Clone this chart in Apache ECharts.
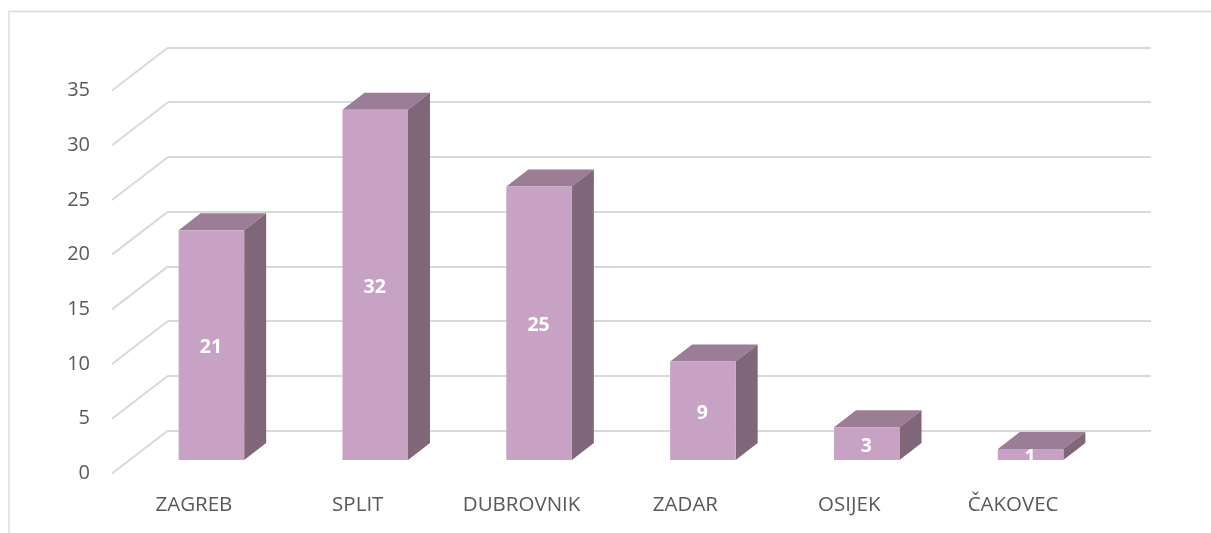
<!DOCTYPE html>
<html>
<head>
<meta charset="utf-8">
<style>html,body{margin:0;padding:0;background:#fff}#c{width:1211px;height:533px}</style>
<script src="https://cdn.jsdelivr.net/npm/echarts@6/dist/echarts.min.js"></script>
</head>
<body>
<div id="c"></div>
<script>
const categories = ['ZAGREB', 'SPLIT', 'DUBROVNIK', 'ZADAR', 'OSIJEK', 'ČAKOVEC'];
const values = [21, 32, 25, 9, 3, 1];
const yTicks = [0, 5, 10, 15, 20, 25, 30, 35];

const FONT = '"Open Sans", "Noto Sans", sans-serif';
const GRID_COLOR = '#d9d9d9';
const TEXT_COLOR = '#595959';
const FRONT = '#c7a2c4', TOP = '#9b7d95', SIDE = '#806679';
const DEPTH_X = 22, DEPTH_Y = 17;
const WALL_X = 56, WALL_Y = 43;

const chart = echarts.init(document.getElementById('c'), null, {renderer: 'canvas'});

const hiddenX = i => ({type: 'category', gridIndex: i, data: categories, show: false});
const hiddenY = i => ({type: 'value', gridIndex: i, min: 0, max: 35, interval: 5, show: false});

chart.setOption({
  animation: false,
  backgroundColor: '#fff',
  graphic: [{
    type: 'polyline',
    silent: true,
    shape: {points: [[9, 533], [9, 11.5], [1211, 11.5]]},
    style: {stroke: GRID_COLOR, lineWidth: 1.3, fill: null}
  }],
  grid: [
    {left: 112, top: 90.5, width: 983, height: 383},   // front edge: tick labels
    {left: 168, top: 47.5, width: 983, height: 383},   // back wall
    {left: 129.5, top: 77, width: 983, height: 383}    // plane of the bars
  ],
  xAxis: [
    {
      type: 'category', gridIndex: 0, data: categories,
      axisLine: {show: false}, axisTick: {show: false},
      axisLabel: {color: TEXT_COLOR, fontFamily: FONT, fontSize: 20.5, margin: 21, interval: 0}
    },
    hiddenX(1),
    hiddenX(2)
  ],
  yAxis: [
    {
      type: 'value', gridIndex: 0, min: 0, max: 35, interval: 5,
      axisLine: {show: false}, axisTick: {show: false}, splitLine: {show: false},
      axisLabel: {color: TEXT_COLOR, fontFamily: FONT, fontSize: 20, margin: 22}
    },
    {
      type: 'value', gridIndex: 1, min: 0, max: 35, interval: 5,
      axisLine: {show: false}, axisTick: {show: false}, axisLabel: {show: false},
      splitLine: {show: true, lineStyle: {color: GRID_COLOR, width: 1.8}}
    },
    hiddenY(2)
  ],
  series: [
    {
      type: 'custom', xAxisIndex: 0, yAxisIndex: 0, z: 1, silent: true,
      data: yTicks.map(v => [0, v]),
      renderItem(params, api) {
        const y = api.coord([0, api.value(1)])[1];
        const x = params.coordSys.x;
        return {
          type: 'line',
          shape: {x1: x, y1: y, x2: x + WALL_X, y2: y - WALL_Y},
          style: {stroke: GRID_COLOR, lineWidth: 2}
        };
      }
    },
    {
      type: 'custom', xAxisIndex: 2, yAxisIndex: 2, z: 5, silent: true,
      data: values.map((v, i) => [i, v]),
      renderItem(params, api) {
        const c = api.value(0), v = api.value(1);
        const top = api.coord([c, v]);
        const base = api.coord([c, 0]);
        const w = api.size([1, 0])[0] * 0.4;
        const l = top[0] - w / 2, r = top[0] + w / 2;
        const t = top[1], b = base[1];
        return {
          type: 'group',
          children: [
            {type: 'polygon', shape: {points: [[l, t], [r, t], [r + DEPTH_X, t - DEPTH_Y], [l + DEPTH_X, t - DEPTH_Y]]}, style: {fill: TOP}},
            {type: 'polygon', shape: {points: [[r, t], [r + DEPTH_X, t - DEPTH_Y], [r + DEPTH_X, b - DEPTH_Y], [r, b]]}, style: {fill: SIDE}},
            {type: 'rect', shape: {x: l, y: t, width: w, height: b - t}, style: {fill: FRONT}},
            {type: 'text', z2: 10, style: {
              text: String(v), x: top[0] - 0.5, y: (t + b) / 2 + 2.5, align: 'center', verticalAlign: 'middle',
              fill: '#fff', font: 'bold 19.5px ' + FONT
            }}
          ]
        };
      }
    }
  ]
});
</script>
</body>
</html>
